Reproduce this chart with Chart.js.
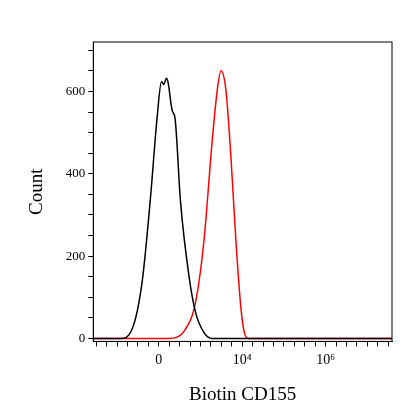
<!DOCTYPE html>
<html>
<head>
<script src="https://cdn.jsdelivr.net/npm/chart.js@4"></script>
<style>html,body{margin:0;background:#fff}#wrap{width:416px;height:416px}</style>
</head>
<body>
<div id="wrap"><canvas id="myChart"></canvas></div>
<script>
// x in display units: 0 -> "0", 2 -> 10^4, 4 -> 10^6
const blackX = [-1.57, -0.92, -0.64, -0.40, -0.20, -0.04, 0.065, 0.12, 0.18, 0.22, 0.32, 0.39, 0.52, 0.72, 0.88, 1.08, 1.28, 5.59];
const blackY = [0, 0, 23, 137, 341, 537, 624, 617, 632, 623, 554, 534, 333, 154, 64, 15, 0, 0];
const redX = [-1.57, 0.24, 0.64, 0.88, 1.08, 1.28, 1.40, 1.49, 1.61, 1.73, 1.85, 1.97, 2.05, 2.15, 5.59];
const redY = [0, 0, 23, 88, 235, 480, 602, 650, 602, 439, 235, 72, 15, 0, 0];
const xTickLabels = { 0: "0", 2: "10⁴", 4: "10⁶" };
const yTickLabels = [0, 200, 400, 600];

const toPts = (xs, ys) => xs.map((x, i) => ({ x: x, y: ys[i] }));
const serif = "'Liberation Serif', 'DejaVu Serif', serif";

const frame = {
  id: "frame",
  afterDraw(chart) {
    const { ctx, chartArea: a } = chart;
    ctx.save();
    ctx.strokeStyle = "#000";
    ctx.lineWidth = 1;
    ctx.strokeRect(a.left, a.top, a.right - a.left, a.bottom - a.top);
    ctx.restore();
  },
};

new Chart(document.getElementById("myChart"), {
  type: "line",
  data: {
    datasets: [
      { data: toPts(blackX, blackY), borderColor: "#000", borderWidth: 1.5, pointRadius: 0, cubicInterpolationMode: "monotone" },
      { data: toPts(redX, redY), borderColor: "#f00", borderWidth: 1.5, pointRadius: 0, cubicInterpolationMode: "monotone" },
    ],
  },
  options: {
    responsive: true,
    maintainAspectRatio: false,
    animation: false,
    layout: { padding: { top: 42, right: 24, left: 22, bottom: 6 } },
    plugins: { legend: { display: false }, tooltip: { enabled: false } },
    scales: {
      x: {
        type: "linear",
        min: -1.57,
        max: 5.59,
        grid: { display: true, drawOnChartArea: false, drawTicks: true, tickLength: 5, color: "#000" },
        border: { color: "#000" },
        ticks: {
          autoSkip: false,
          maxRotation: 0,
          minRotation: 0,
          color: "#000",
          font: { family: serif, size: 14 },
          padding: 6,
          callback: (v) => xTickLabels[v] !== undefined ? xTickLabels[v] : "",
        },
        afterBuildTicks: (ax) => {
          const t = [];
          for (let v = -1.5; v <= 5.5; v += 0.25) t.push({ value: v });
          ax.ticks = t;
        },
        title: { display: true, text: "Biotin CD155", color: "#000", font: { family: serif, size: 19 }, padding: { top: 8 } },
      },
      y: {
        min: -7,
        max: 720,
        grid: { display: true, drawOnChartArea: false, drawTicks: true, tickLength: 5, color: "#000" },
        border: { color: "#000" },
        ticks: {
          autoSkip: false,
          color: "#000",
          font: { family: serif, size: 13 },
          callback: (v) => yTickLabels.includes(v) ? String(v) : "",
        },
        afterBuildTicks: (ax) => {
          const t = [];
          for (let v = 0; v <= 700; v += 50) t.push({ value: v });
          ax.ticks = t;
        },
        title: { display: true, text: "Count", color: "#000", font: { family: serif, size: 19 }, padding: { bottom: 14 } },
      },
    },
  },
  plugins: [frame],
});
</script>
</body>
</html>
